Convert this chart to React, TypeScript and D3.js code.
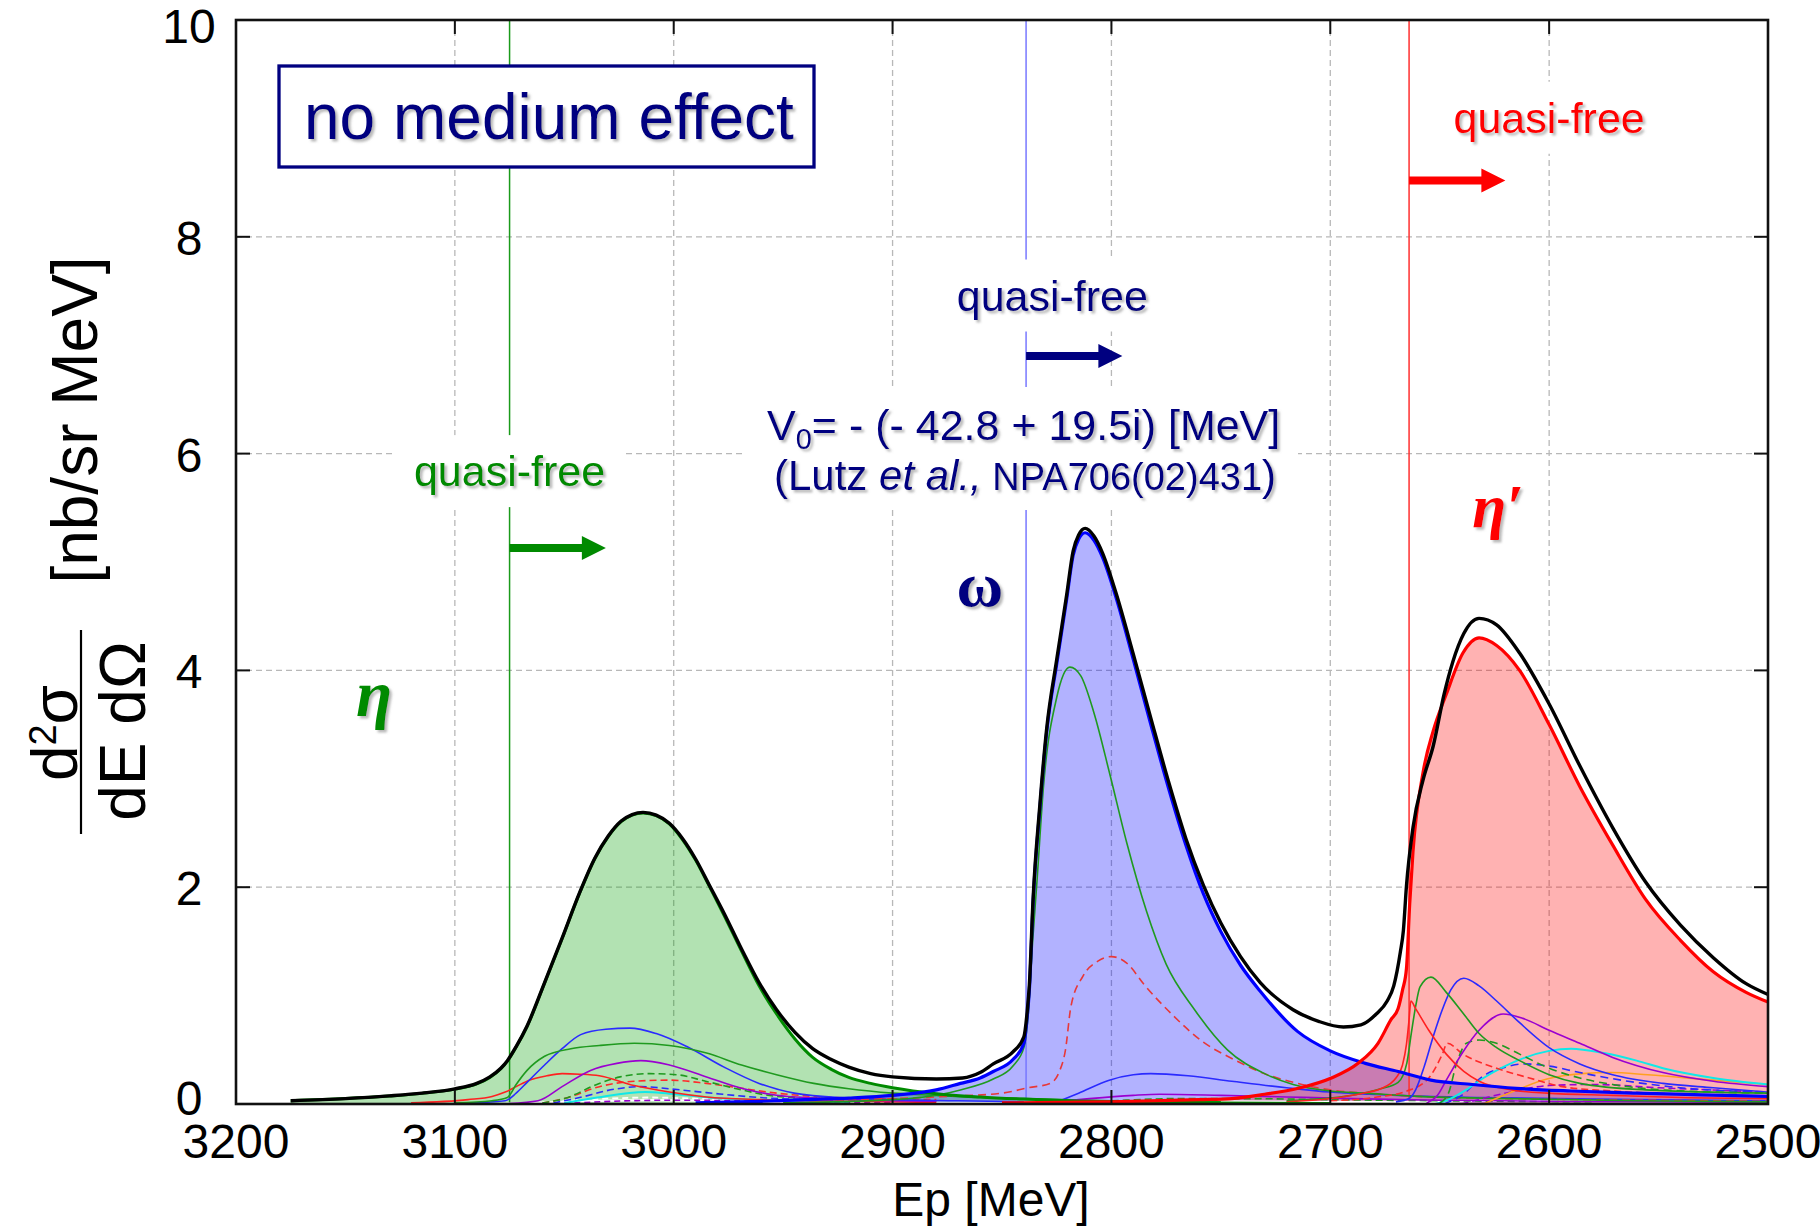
import React, { useEffect } from 'react';
import * as d3 from 'd3';

type P = [number, number];

const W = 1820;
const H = 1229;
const PLOT = { left: 236, right: 1768, top: 20, bottom: 1104 };

const xTicks = [3200, 3100, 3000, 2900, 2800, 2700, 2600, 2500];
const yTicks = [0, 2, 4, 6, 8, 10];
const xGrid = [3100, 3000, 2900, 2800, 2700, 2600];
const yGrid = [2, 4, 6, 8];

// thresholds (quasi-free) in Ep [MeV]
const thrEta = 3075;
const thrOmega = 2839;
const thrEtaP = 2664;

// ---- totals ----
const totalSum: P[] = [
  [3175, 0.03], [3150, 0.05], [3130, 0.075], [3115, 0.1], [3100, 0.14], [3090, 0.19], [3084, 0.25],
  [3079, 0.33], [3076, 0.4], [3072, 0.53], [3067, 0.72], [3059, 1.12], [3051, 1.53], [3043, 1.95],
  [3036, 2.27], [3030, 2.47], [3024, 2.61], [3019, 2.67], [3014, 2.69], [3008, 2.665], [3002, 2.59],
  [2996, 2.45], [2990, 2.26], [2984, 2.03], [2977, 1.76], [2969, 1.43], [2961, 1.12], [2953, 0.87],
  [2944.6, 0.66], [2936.5, 0.51], [2928, 0.41], [2920, 0.34], [2910, 0.28], [2900, 0.25], [2880, 0.23],
  [2868, 0.24], [2860, 0.29], [2854, 0.37], [2845, 0.48], [2840, 0.62], [2838.5, 0.85], [2837.5, 1.1],
  [2835.8, 1.89], [2832.7, 2.76], [2829.6, 3.46], [2825, 4.1], [2820.5, 4.69], [2817.5, 5.1], [2815, 5.25],
  [2812, 5.31], [2808, 5.24], [2804, 5.08], [2798, 4.72], [2790, 4.15], [2782, 3.56], [2774, 2.98],
  [2766, 2.45], [2758, 2.02], [2750, 1.67], [2741, 1.36], [2732, 1.12], [2717, 0.87], [2705, 0.76],
  [2694, 0.71], [2686, 0.73], [2679, 0.83], [2674, 0.95], [2671, 1.09], [2668, 1.4], [2666.6, 1.6],
  [2665.2, 2.01], [2662.2, 2.55], [2657.6, 2.99], [2653, 3.3], [2648, 3.78], [2644, 4.08], [2639, 4.34],
  [2632, 4.48], [2624, 4.42], [2613.5, 4.16], [2600, 3.69], [2586, 3.12], [2571, 2.55], [2556, 2.05],
  [2540, 1.65], [2525, 1.35], [2510, 1.11], [2500, 1.01],
];

const etaSum: P[] = [
  [3175, 0.03], [3150, 0.05], [3130, 0.073], [3115, 0.098], [3100, 0.137], [3090, 0.185], [3084, 0.245],
  [3079, 0.325], [3076, 0.395], [3072, 0.525], [3067, 0.715], [3059, 1.115], [3051, 1.525], [3043, 1.945],
  [3036, 2.265], [3030, 2.465], [3024, 2.605], [3019, 2.665], [3014, 2.685], [3008, 2.66], [3002, 2.585],
  [2996, 2.44], [2990, 2.25], [2984, 2.02], [2977, 1.74], [2969, 1.41], [2961, 1.09], [2953, 0.83],
  [2944.6, 0.6], [2936.5, 0.43], [2928, 0.32], [2920, 0.245], [2910, 0.19], [2900, 0.15], [2880, 0.095],
  [2860, 0.065], [2840, 0.045], [2820, 0.03], [2790, 0.02], [2750, 0.01], [2700, 0.005],
];

const omegaSum: P[] = [
  [2990, 0.01], [2960, 0.025], [2940, 0.04], [2920, 0.055], [2900, 0.08], [2880, 0.13], [2869, 0.19],
  [2860, 0.24], [2854, 0.3], [2845, 0.41], [2840, 0.56], [2838.5, 0.8], [2837.5, 1.05], [2835.8, 1.86],
  [2832.7, 2.73], [2829.6, 3.43], [2825, 4.06], [2820.5, 4.65], [2817.5, 5.06], [2815, 5.21], [2812, 5.27],
  [2808, 5.2], [2804, 5.04], [2798, 4.68], [2790, 4.1], [2782, 3.5], [2774, 2.92], [2766, 2.39],
  [2758, 1.94], [2750, 1.59], [2741, 1.28], [2732, 1.04], [2715, 0.67], [2700, 0.49], [2684, 0.375],
  [2669, 0.3], [2654, 0.22], [2635, 0.18], [2615, 0.145], [2590, 0.12], [2560, 0.1], [2530, 0.085],
  [2500, 0.07],
];

const etaPrimeSum: P[] = [
  [2850, 0.01], [2800, 0.02], [2760, 0.04], [2745, 0.05], [2730, 0.09], [2714.6, 0.145], [2699.5, 0.24],
  [2687.3, 0.375], [2678.2, 0.56], [2672.2, 0.78], [2669, 0.88], [2667, 1.05], [2665.2, 1.25],
  [2663.7, 1.85], [2662.2, 2.33], [2657.6, 3.06], [2653, 3.44], [2647, 3.78], [2639.4, 4.16], [2632, 4.3],
  [2624, 4.23], [2613.5, 4.0], [2600, 3.5], [2586, 2.93], [2571, 2.39], [2556, 1.89], [2540, 1.51],
  [2525, 1.22], [2510, 1.03], [2500, 0.94],
];

// ---- eta components ----
const etaGreen: P[] = [
  [3100, 0.01], [3083, 0.03], [3076, 0.06], [3072, 0.18], [3067, 0.31], [3059, 0.44], [3047, 0.51],
  [3034, 0.54], [3018, 0.56], [3002, 0.54], [2985, 0.47], [2969, 0.36], [2953, 0.27], [2936, 0.19],
  [2920, 0.14], [2900, 0.1], [2880, 0.08], [2860, 0.06], [2840, 0.05], [2800, 0.03], [2750, 0.02],
];
const etaBlue: P[] = [
  [3100, 0.005], [3077, 0.03], [3072, 0.1], [3067, 0.2], [3059, 0.36], [3051, 0.51], [3042.5, 0.64],
  [3031, 0.69], [3020, 0.7], [3008, 0.65], [2994, 0.53], [2977, 0.34], [2961, 0.19], [2945, 0.1],
  [2920, 0.055], [2900, 0.04], [2870, 0.03], [2840, 0.02],
];
const etaPurple: P[] = [
  [3075, 0.005], [3062, 0.03], [3051, 0.16], [3038, 0.31], [3026, 0.375], [3015, 0.4], [3002, 0.36],
  [2985, 0.25], [2969, 0.145], [2953, 0.08], [2936, 0.055], [2910, 0.035], [2880, 0.025],
];
const etaRed: P[] = [
  [3120, 0.01], [3094, 0.04], [3083, 0.07], [3077, 0.11], [3072, 0.16], [3066, 0.22], [3058, 0.26],
  [3051, 0.28], [3043, 0.275], [3034, 0.26], [3018, 0.17], [3002, 0.11], [2985, 0.065], [2960, 0.04],
  [2920, 0.025], [2880, 0.015],
];
const etaGreenDash: P[] = [
  [3060, 0.01], [3050, 0.05], [3034, 0.19], [3024.5, 0.25], [3011.5, 0.28], [2998.6, 0.27], [2985.4, 0.21],
  [2969, 0.13], [2953, 0.07], [2936, 0.055], [2910, 0.04], [2880, 0.03],
];
const etaRedDash: P[] = [
  [3060, 0.01], [3050, 0.05], [3034, 0.16], [3018, 0.21], [3002, 0.22], [2985, 0.19], [2969, 0.145],
  [2953, 0.1], [2936, 0.07], [2910, 0.05], [2880, 0.04],
];
const etaBlueDash: P[] = [
  [3055, 0.01], [3045, 0.05], [3026, 0.14], [3015, 0.16], [3002, 0.14], [2985, 0.105], [2961, 0.06],
  [2936, 0.04], [2900, 0.03],
];
const etaCyan: P[] = [
  [3050, 0.01], [3035, 0.06], [3013, 0.11], [3002, 0.095], [2977, 0.05], [2950, 0.03], [2920, 0.02],
];
const etaPurpleDash: P[] = [
  [3050, 0.005], [3020, 0.03], [3000, 0.035], [2970, 0.03], [2940, 0.02], [2900, 0.01],
];
const etaWhiteDash: P[] = [
  [3060, 0.01], [3030, 0.05], [3010, 0.06], [2990, 0.05], [2960, 0.03], [2920, 0.015],
];

// ---- omega components ----
const omGreen: P[] = [
  [2950, 0.01], [2900, 0.04], [2880, 0.08], [2869, 0.13], [2854, 0.23], [2845, 0.35], [2840, 0.52],
  [2838, 0.83], [2836, 1.5], [2834, 2.06], [2831, 2.94], [2825, 3.75], [2819, 4.03], [2814, 3.95],
  [2808, 3.61], [2800.7, 3.04], [2793, 2.41], [2784, 1.78], [2775, 1.29], [2762, 0.87], [2747, 0.5],
  [2730, 0.28], [2717, 0.18], [2700, 0.12], [2684, 0.1], [2660, 0.07], [2620, 0.05], [2560, 0.03],
  [2500, 0.02],
];
const omRedDash: P[] = [
  [2950, 0.03], [2900, 0.05], [2875, 0.07], [2850, 0.1], [2838, 0.15], [2828, 0.19], [2824, 0.29],
  [2821, 0.5], [2818.5, 0.9], [2813, 1.18], [2806, 1.32], [2800, 1.36], [2793, 1.3], [2785, 1.1],
  [2772, 0.82], [2758, 0.57], [2745, 0.42], [2730, 0.28], [2715, 0.19], [2700, 0.13], [2684, 0.1],
  [2660, 0.07], [2620, 0.05], [2560, 0.035], [2500, 0.025],
];
const omBlue: P[] = [
  [2826, 0.01], [2815, 0.1], [2801, 0.22], [2790, 0.27], [2782, 0.28], [2765, 0.26], [2745, 0.21],
  [2720, 0.15], [2700, 0.11], [2682, 0.09], [2664, 0.075], [2630, 0.06], [2580, 0.045], [2500, 0.03],
];
const omPurple: P[] = [
  [2830, 0.01], [2810, 0.05], [2790, 0.08], [2778, 0.09], [2750, 0.08], [2720, 0.065], [2690, 0.05],
  [2650, 0.035], [2600, 0.025], [2500, 0.015],
];
const omGreenDash: P[] = [
  [2830, 0.0], [2800, 0.03], [2770, 0.05], [2740, 0.05], [2700, 0.04], [2650, 0.03], [2580, 0.02],
];
const baseWhite: P[] = [
  [3080, 0.0], [3050, 0.02], [3010, 0.035], [2970, 0.025], [2930, 0.015], [2880, 0.01], [2840, 0.012],
  [2800, 0.02], [2750, 0.025], [2700, 0.02], [2660, 0.02], [2620, 0.03], [2560, 0.025], [2500, 0.02],
];

// ---- eta' components ----
const epRed: P[] = [
  [2720, 0.02], [2700, 0.05], [2685, 0.1], [2677, 0.14], [2670, 0.24], [2667, 0.36], [2665.2, 0.55],
  [2664, 0.78], [2663.2, 0.95], [2661, 0.88], [2655, 0.68], [2647, 0.46], [2639, 0.3], [2632, 0.21],
  [2617, 0.13], [2601, 0.1], [2571, 0.08], [2540, 0.06], [2500, 0.05],
];
const epGreen: P[] = [
  [2720, 0.03], [2690, 0.08], [2677, 0.14], [2669, 0.2], [2665, 0.38], [2663, 0.65], [2661, 0.9],
  [2659, 1.08], [2654, 1.17], [2647, 1.03], [2639.4, 0.84], [2632, 0.65], [2624, 0.52], [2613.5, 0.4],
  [2600, 0.27], [2586, 0.19], [2556, 0.13], [2500, 0.1],
];
const epBlue: P[] = [
  [2670, 0.02], [2664, 0.05], [2661, 0.13], [2657, 0.35], [2653, 0.62], [2649, 0.86], [2645, 1.05],
  [2639, 1.16], [2632, 1.09], [2624, 0.95], [2613.5, 0.75], [2600, 0.52], [2586, 0.37], [2571, 0.27],
  [2548, 0.19], [2525, 0.15], [2500, 0.11],
];
const epPurple: P[] = [
  [2656, 0.01], [2651, 0.08], [2647, 0.22], [2639.4, 0.48], [2632, 0.68], [2621, 0.83], [2612, 0.79],
  [2600, 0.68], [2586, 0.56], [2571, 0.43], [2548, 0.29], [2525, 0.21], [2500, 0.16],
];
const epGreenDash: P[] = [
  [2650, 0.01], [2646, 0.1], [2642.5, 0.36], [2637.8, 0.56], [2632, 0.59], [2624, 0.56], [2613.5, 0.46],
  [2600, 0.33], [2586, 0.24], [2571, 0.18], [2548, 0.13], [2500, 0.1],
];
const epRedDash: P[] = [
  [2700, 0.03], [2680, 0.06], [2665, 0.12], [2655, 0.24], [2649, 0.45], [2646.5, 0.56], [2639.4, 0.46],
  [2624, 0.33], [2609, 0.24], [2594, 0.16], [2571, 0.12], [2540, 0.09], [2500, 0.07],
];
const epCyan: P[] = [
  [2652, 0.0], [2645, 0.05], [2638, 0.13], [2630, 0.24], [2622, 0.33], [2614.6, 0.4], [2600, 0.49],
  [2590, 0.51], [2575, 0.47], [2560, 0.4], [2548, 0.33], [2525, 0.24], [2500, 0.18],
];
const epBlueDash: P[] = [
  [2648, 0.0], [2640, 0.08], [2630, 0.26], [2620, 0.34], [2612, 0.37], [2600, 0.35], [2586, 0.29],
  [2564, 0.21], [2540, 0.15], [2500, 0.11],
];
const epOrange: P[] = [
  [2630, 0.0], [2616, 0.12], [2601, 0.23], [2585, 0.28], [2572, 0.29], [2555, 0.27], [2525, 0.22],
  [2500, 0.18],
];
const epPurpleDash: P[] = [
  [2640, 0.0], [2620, 0.1], [2600, 0.17], [2580, 0.18], [2550, 0.15], [2500, 0.11],
];

const x = d3.scaleLinear().domain([3200, 2500]).range([PLOT.left, PLOT.right]);
const y = d3.scaleLinear().domain([0, 10]).range([PLOT.bottom, PLOT.top]);

const line = d3.line<P>().x((d) => x(d[0])).y((d) => y(d[1])).curve(d3.curveMonotoneX);
const area = d3
  .area<P>()
  .x((d) => x(d[0]))
  .y0(y(0))
  .y1((d) => y(d[1]))
  .curve(d3.curveMonotoneX);

const GREEN = '#008a00';
const GREEN_T = '#1f9a1f';
const BLUE = '#0000ff';
const BLUE_T = '#2a2aff';
const PURPLE = '#9a00d0';
const RED = '#ff0000';
const CYAN = '#10e8e8';
const ORANGE = '#ffa020';
const NAVY = '#000080';

const thinSeries: { d: P[]; c: string; dash?: string; w?: number }[] = [
  { d: baseWhite, c: '#ffffff', w: 2.2 },
  { d: etaWhiteDash, c: '#ffffff', dash: '6,4', w: 1.8 },
  { d: etaPurpleDash, c: PURPLE, dash: '6,4' },
  { d: etaCyan, c: CYAN, w: 2 },
  { d: etaBlueDash, c: BLUE_T, dash: '7,4' },
  { d: etaRedDash, c: '#ff2a2a', dash: '7,4' },
  { d: etaGreenDash, c: GREEN_T, dash: '7,4' },
  { d: etaRed, c: '#ff2020' },
  { d: etaPurple, c: PURPLE },
  { d: etaBlue, c: BLUE_T },
  { d: etaGreen, c: GREEN_T },
  { d: omGreenDash, c: GREEN_T, dash: '7,4' },
  { d: omPurple, c: PURPLE },
  { d: omBlue, c: BLUE_T },
  { d: omRedDash, c: '#e83838', dash: '8,5' },
  { d: omGreen, c: GREEN_T },
  { d: epPurpleDash, c: PURPLE, dash: '7,4' },
  { d: epOrange, c: ORANGE },
  { d: epBlueDash, c: BLUE_T, dash: '8,5' },
  { d: epCyan, c: CYAN, w: 2 },
  { d: epRedDash, c: '#ff2a2a', dash: '7,4' },
  { d: epGreenDash, c: GREEN_T, dash: '8,5' },
  { d: epPurple, c: PURPLE },
  { d: epBlue, c: BLUE_T },
  { d: epGreen, c: GREEN_T },
  { d: epRed, c: '#ff2020' },
];

const arrowLen = 44; // MeV
const qfLabels = [
  { thr: thrEta, color: GREEN, textEp: 3075, textY: 5.7, arrowY: 5.13 },
  { thr: thrOmega, color: NAVY, textEp: 2827, textY: 7.32, arrowY: 6.9 },
  { thr: thrEtaP, color: RED, textEp: 2600, textY: 8.96, arrowY: 8.52 },
];
const thresholds = [
  { ep: thrEta, color: '#1a9a1a' },
  { ep: thrOmega, color: '#7878ff' },
  { ep: thrEtaP, color: '#ff3030' },
];

const SANS = '"Liberation Sans", Arial, Helvetica, sans-serif';
const SERIF = '"Liberation Serif", "Times New Roman", serif';

function arrowPath(x0: number, x1: number, yy: number) {
  const head = 24;
  const hw = 12;
  const sw = 4;
  const xh = x1 - head;
  return `M${x0},${yy - sw}L${xh},${yy - sw}L${xh},${yy - hw}L${x1},${yy}L${xh},${yy + hw}L${xh},${yy + sw}L${x0},${yy + sw}Z`;
}

export default function App() {
  useEffect(() => {
    document.body.style.margin = '0';
  }, []);

  const yLabelOffset = (v: number) => (v === 10 ? 6 : v === 0 ? -6 : 1);

  return (
    <svg
      width={W}
      height={H}
      viewBox={`0 0 ${W} ${H}`}
      style={{ position: 'absolute', left: 0, top: 0, background: '#fff' }}
    >
      <defs>
        <filter id="sh" x="-10%" y="-20%" width="130%" height="150%">
          <feDropShadow dx="2.5" dy="2.5" stdDeviation="1.2" floodColor="#808080" floodOpacity="0.55" />
        </filter>
        <clipPath id="plotClip">
          <rect x={PLOT.left} y={PLOT.top} width={PLOT.right - PLOT.left} height={PLOT.bottom - PLOT.top} />
        </clipPath>
      </defs>
      <rect x={0} y={0} width={W} height={H} fill="#fff" />

      {/* grid */}
      <g stroke="#b8b8b8" strokeWidth={1.3} strokeDasharray="6,4">
        {xGrid.map((v) => (
          <line key={'gx' + v} x1={x(v)} x2={x(v)} y1={PLOT.top} y2={PLOT.bottom} />
        ))}
        {yGrid.map((v) => (
          <line key={'gy' + v} x1={PLOT.left} x2={PLOT.right} y1={y(v)} y2={y(v)} />
        ))}
      </g>

      <g clipPath="url(#plotClip)">
        {/* fills */}
        <path d={area(etaSum) || ''} fill="rgb(0,160,0)" fillOpacity={0.3} />
        <path d={area(omegaSum) || ''} fill="rgb(0,0,255)" fillOpacity={0.3} />
        <path d={area(etaPrimeSum) || ''} fill="rgb(255,0,0)" fillOpacity={0.3} />

        {/* thresholds */}
        {thresholds.map((t) => (
          <line key={'t' + t.ep} x1={x(t.ep)} x2={x(t.ep)} y1={PLOT.top} y2={PLOT.bottom} stroke={t.color} strokeWidth={1.5} />
        ))}

        {/* white label backgrounds */}
        {qfLabels.map((q) => (
          <rect key={'bg' + q.thr} x={x(q.textEp) - 116} y={y(q.textY) - 51} width={232} height={72} fill="#fff" />
        ))}
        <rect x={745} y={387} width={553} height={123} fill="#fff" />

        {/* component curves */}
        {thinSeries.map((s, i) => (
          <path
            key={'s' + i}
            d={line(s.d) || ''}
            fill="none"
            stroke={s.c}
            strokeWidth={s.w ?? 1.6}
            strokeDasharray={s.dash}
          />
        ))}

        {/* meson totals */}
        <path d={line(etaSum) || ''} fill="none" stroke={GREEN} strokeWidth={3} />
        <path d={line(omegaSum) || ''} fill="none" stroke={BLUE} strokeWidth={3.2} />
        <path d={line(etaPrimeSum) || ''} fill="none" stroke={RED} strokeWidth={3.2} />
        <path d={line(totalSum) || ''} fill="none" stroke="#000" strokeWidth={3.4} />
      </g>

      {/* frame and ticks */}
      <rect
        x={PLOT.left}
        y={PLOT.top}
        width={PLOT.right - PLOT.left}
        height={PLOT.bottom - PLOT.top}
        fill="none"
        stroke="#111"
        strokeWidth={2.6}
      />
      <g stroke="#111" strokeWidth={2}>
        {xTicks.map((v) => (
          <g key={'xt' + v}>
            <line x1={x(v)} x2={x(v)} y1={PLOT.bottom} y2={PLOT.bottom - 14} />
            <line x1={x(v)} x2={x(v)} y1={PLOT.top} y2={PLOT.top + 14} />
          </g>
        ))}
        {yTicks.map((v) => (
          <g key={'yt' + v}>
            <line x1={PLOT.left} x2={PLOT.left + 14} y1={y(v)} y2={y(v)} />
            <line x1={PLOT.right} x2={PLOT.right - 14} y1={y(v)} y2={y(v)} />
          </g>
        ))}
      </g>

      {/* tick labels */}
      <g fontFamily={SANS} fontSize={48} fill="#000">
        {xTicks.map((v) => (
          <text key={'xl' + v} x={x(v)} y={1158} textAnchor="middle">
            {v}
          </text>
        ))}
        {yTicks.map((v) => (
          <text key={'yl' + v} x={189} y={y(v) + 17 + yLabelOffset(v)} textAnchor="middle">
            {v}
          </text>
        ))}
      </g>

      {/* axis titles */}
      <text x={991} y={1216} fontFamily={SANS} fontSize={48} textAnchor="middle" fill="#000">
        Ep [MeV]
      </text>
      <g fontFamily={SANS} fontSize={64} fill="#000">
        <text transform="translate(97,420) rotate(-90)" textAnchor="middle">
          [nb/sr MeV]
        </text>
        <text transform="translate(77,733) rotate(-90)" textAnchor="middle">
          d
          <tspan fontSize={38} dy={-21}>
            2
          </tspan>
          <tspan dy={21}>σ</tspan>
        </text>
        <line x1={81} x2={81} y1={630} y2={834} stroke="#000" strokeWidth={2.2} />
        <text transform="translate(145,731) rotate(-90)" textAnchor="middle">
          dE dΩ
        </text>
      </g>

      {/* no medium effect box */}
      <rect x={279} y={66} width={535} height={101} fill="#fff" stroke={NAVY} strokeWidth={3.3} />
      <text x={304} y={139} fontFamily={SANS} fontSize={64} fill={NAVY} filter="url(#sh)">
        no medium effect
      </text>

      {/* quasi-free labels and arrows */}
      {qfLabels.map((q) => (
        <g key={'qf' + q.thr}>
          <text
            x={x(q.textEp)}
            y={y(q.textY)}
            fontFamily={SANS}
            fontSize={43}
            fill={q.color}
            textAnchor="middle"
            filter="url(#sh)"
          >
            quasi-free
          </text>
          <path d={arrowPath(x(q.thr), x(q.thr - arrowLen), y(q.arrowY))} fill={q.color} />
        </g>
      ))}

      {/* potential annotation */}
      <g fontFamily={SANS} fill={NAVY} filter="url(#sh)">
        <text x={767} y={440} fontSize={43}>
          V
          <tspan fontSize={29} dy={9}>
            0
          </tspan>
          <tspan dy={-9}>= - (- 42.8 + 19.5i) [MeV]</tspan>
        </text>
        <text x={774} y={490} fontSize={42}>
          (Lutz <tspan fontStyle="italic">et al.,</tspan>
          <tspan fontSize={38}> NPA706(02)431</tspan>)
        </text>
      </g>

      {/* meson labels */}
      <text x={374} y={716} fontFamily={SERIF} fontStyle="italic" fontWeight="bold" fontSize={66} fill={GREEN} textAnchor="middle" filter="url(#sh)">
        η
      </text>
      <text x={980} y={606} fontFamily={SERIF} fontWeight="bold" fontSize={64} fill={NAVY} textAnchor="middle" filter="url(#sh)">
        ω
      </text>
      <text x={1498} y={527} fontFamily={SERIF} fontStyle="italic" fontWeight="bold" fontSize={62} fill={RED} textAnchor="middle" filter="url(#sh)">
        η′
      </text>
    </svg>
  );
}
